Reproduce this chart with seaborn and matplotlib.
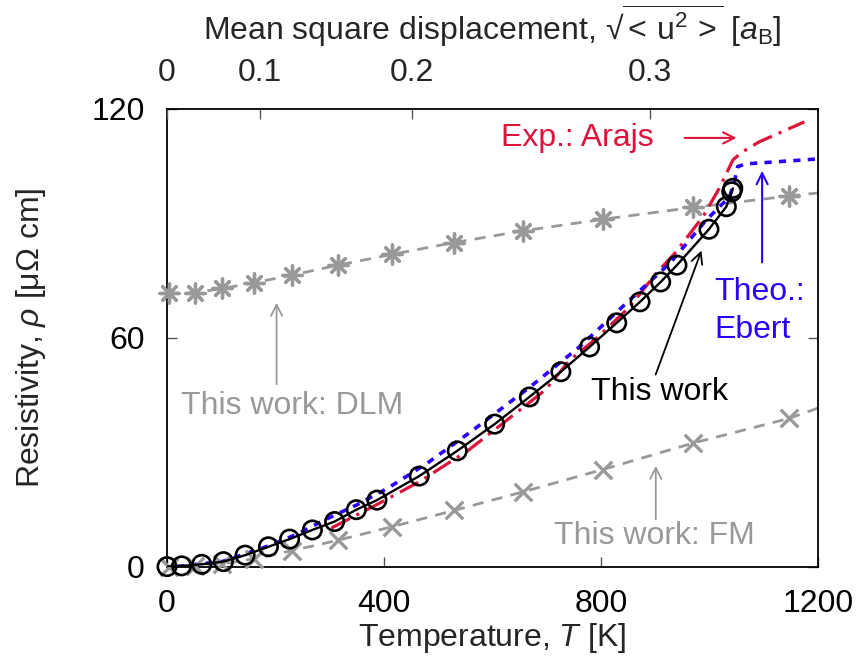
import matplotlib
matplotlib.use("Agg")
import matplotlib.pyplot as plt
import seaborn as sns
import numpy as np

# ---------------- data ----------------
# This work (black circles, solid line)
tw_T = [0, 27, 64, 104, 144, 187, 226, 268, 309, 349, 387, 465, 535, 604, 668,
        726, 779, 829, 872, 910, 940, 999, 1031, 1041, 1043]
tw_rho = [0.1, 0.3, 0.7, 1.4, 3.1, 5.3, 7.3, 9.7, 11.9, 15.0, 17.5, 23.8, 30.4,
          37.4, 44.5, 51.1, 57.6, 63.9, 69.4, 74.6, 79.0, 88.4, 94.3, 98.2, 99.1]

# This work: DLM (gray stars, dashed)
dlm_T = [3, 52, 102, 161, 231, 315, 414, 529, 657, 803, 969, 1147]
dlm_rho = [71.6, 71.8, 72.9, 74.4, 76.4, 79.0, 81.8, 84.9, 88.0, 91.0, 94.1, 97.1]
dlm_line_end_T = [1147, 1200]
dlm_line_end_rho = [97.1, 97.9]

# This work: FM (gray crosses, dashed)
fm_T = [3, 52, 102, 161, 231, 315, 414, 529, 657, 803, 969, 1147]
fm_rho = [0.1, 0.3, 0.8, 2.2, 4.3, 7.0, 10.5, 14.8, 19.7, 25.5, 32.4, 38.9]
fm_line_end_T = [1147, 1200]
fm_line_end_rho = [38.9, 41.6]

# Exp.: Arajs (crimson dash-dot)
ar_T = [303, 385, 465, 556, 620, 697, 743, 792, 853, 902, 936, 988, 1018, 1043,
        1058, 1092, 1175]
ar_rho = [10.2, 16.2, 22.3, 30.6, 37.7, 46.3, 54.2, 59.9, 68.1, 76.9, 82.1,
          91.7, 99.1, 106.5, 108.4, 111.3, 116.5]

# Theo.: Ebert (blue dotted)
eb_T = [18, 104, 189, 238, 299, 349, 409, 480, 560, 670, 761, 853, 927, 994,
        1037, 1046, 1052, 1067, 1200]
eb_rho = [0.1, 1.5, 5.6, 8.5, 12.9, 16.2, 20.8, 27.2, 35.4, 47.2, 57.7, 69.9,
          79.5, 90.8, 96.9, 100.8, 104.8, 105.5, 106.8]

# top axis (mean square displacement) ticks at temperatures
top_tick_T = [0, 172, 451, 890]
top_tick_labels = ["0", "0.1", "0.2", "0.3"]

x_ticks = [0, 400, 800, 1200]
y_ticks = [0, 60, 120]

# ---------------- style ----------------
sns.set_theme(style="white")
plt.rcParams["font.family"] = ["Liberation Sans", "DejaVu Sans"]
plt.rcParams["mathtext.fontset"] = "custom"
plt.rcParams["mathtext.rm"] = "Liberation Sans"
plt.rcParams["mathtext.it"] = "Liberation Sans:italic"
plt.rcParams["mathtext.bf"] = "Liberation Sans:bold"

FS = 23
GRAY = "#999999"
RED = "#dc143c"
BLUE = "#2a00ff"

fig = plt.figure(figsize=(8.63, 6.70), dpi=100)
ax = fig.add_axes([167 / 863, 1 - 567 / 670, (818 - 167) / 863, (567 - 108.5) / 670])

DASH = (0, (4, 3))

# DLM
sns.lineplot(x=dlm_T, y=dlm_rho, ax=ax, sort=False, estimator=None, color=GRAY, lw=2.0)
ax.lines[-1].set_linestyle(DASH)
sns.lineplot(x=dlm_line_end_T, y=dlm_line_end_rho, ax=ax, sort=False,
             estimator=None, color=GRAY, lw=2.0)
ax.lines[-1].set_linestyle(DASH)
sns.scatterplot(x=dlm_T, y=dlm_rho, ax=ax, marker=(8, 2, 0), s=190, color=GRAY,
                linewidth=2.4, clip_on=False, zorder=3)

# FM
sns.lineplot(x=fm_T, y=fm_rho, ax=ax, sort=False, estimator=None, color=GRAY, lw=2.0)
ax.lines[-1].set_linestyle(DASH)
sns.lineplot(x=fm_line_end_T, y=fm_line_end_rho, ax=ax, sort=False,
             estimator=None, color=GRAY, lw=2.0)
ax.lines[-1].set_linestyle(DASH)
sns.scatterplot(x=fm_T, y=fm_rho, ax=ax, marker="x", s=160, color=GRAY,
                linewidth=2.4, clip_on=False, zorder=3)

# Arajs
sns.lineplot(x=ar_T, y=ar_rho, ax=ax, sort=False, estimator=None, color=RED, lw=2.3)
ax.lines[-1].set_linestyle((0, (6.5, 2.3, 1, 2.3)))

# Ebert
sns.lineplot(x=eb_T, y=eb_rho, ax=ax, sort=False, estimator=None, color=BLUE, lw=2.6)
ax.lines[-1].set_linestyle((0, (2, 2)))

# This work
sns.lineplot(x=tw_T, y=tw_rho, ax=ax, sort=False, estimator=None, color="black",
             lw=1.7, zorder=4)
sns.scatterplot(x=tw_T, y=tw_rho, ax=ax, marker="o", s=175, facecolor="none",
                edgecolor="black", linewidth=1.9, clip_on=False, zorder=5)

ax.set_xlim(0, 1200)
ax.set_ylim(0, 120)
ax.set_xticks(x_ticks)
ax.set_xticklabels([str(v) for v in x_ticks])
ax.set_yticks(y_ticks)
ax.set_yticklabels([str(v) for v in y_ticks])
ax.tick_params(axis="both", direction="in", length=7, width=1, color="#555555",
               labelsize=FS, labelcolor="black")
ax.tick_params(axis="x", pad=16, top=False, bottom=True)
ax.tick_params(axis="y", pad=16, left=True, right=True)
for sp in ax.spines.values():
    sp.set_color("black")
    sp.set_linewidth(1.3)

ax.set_xlabel("Temperature, $T$ [K]", fontsize=FS, labelpad=1)
ax.set_ylabel(r"Resistivity, $\rho$ [μΩ cm]", fontsize=FS, labelpad=31)

# top axis
ax2 = ax.twiny()
ax2.set_xlim(ax.get_xlim())
ax2.set_xticks(top_tick_T)
ax2.set_xticklabels(top_tick_labels)
ax2.tick_params(axis="x", direction="in", length=7, width=1, color="#555555",
                labelsize=FS, pad=15)
ax2.set_xlabel(r"Mean square displacement, √$\overline{<\,\mathrm{u}^{2}\,>}$ [$a_\mathrm{B}$]",
               fontsize=FS, labelpad=13)
for sp in ax2.spines.values():
    sp.set_visible(False)
ax2.grid(False)
ax.grid(False)

# annotations
ax.text(756, 112.3, "Exp.: Arajs", color=RED, fontsize=FS, ha="center", va="center")
ax.annotate("", xy=(1055, 112.3), xytext=(949, 112.3),
            arrowprops=dict(arrowstyle="->", color=RED, lw=1.5, mutation_scale=20))

ax.text(1009, 72, "Theo.:", color=BLUE, fontsize=FS, ha="left", va="center")
ax.text(1009, 62, "Ebert", color=BLUE, fontsize=FS, ha="left", va="center")
ax.annotate("", xy=(1097, 104.4), xytext=(1097, 79),
            arrowprops=dict(arrowstyle="->", color=BLUE, lw=1.5, mutation_scale=20))

ax.text(908, 45.8, "This work", color="black", fontsize=FS, ha="center", va="center")
ax.annotate("", xy=(987, 83.5), xytext=(899, 49.7),
            arrowprops=dict(arrowstyle="->", color="black", lw=1.3, mutation_scale=20))

ax.text(231, 42.1, "This work: DLM", color=GRAY, fontsize=FS, ha="center", va="center")
ax.annotate("", xy=(202, 69.9), xytext=(202, 47.1),
            arrowprops=dict(arrowstyle="->", color=GRAY, lw=1.3, mutation_scale=20))

ax.text(899, 8.1, "This work: FM", color=GRAY, fontsize=FS, ha="center", va="center")
ax.annotate("", xy=(901, 27.2), xytext=(901, 11.8),
            arrowprops=dict(arrowstyle="->", color=GRAY, lw=1.3, mutation_scale=20))

fig.savefig("out.png", dpi=100)
